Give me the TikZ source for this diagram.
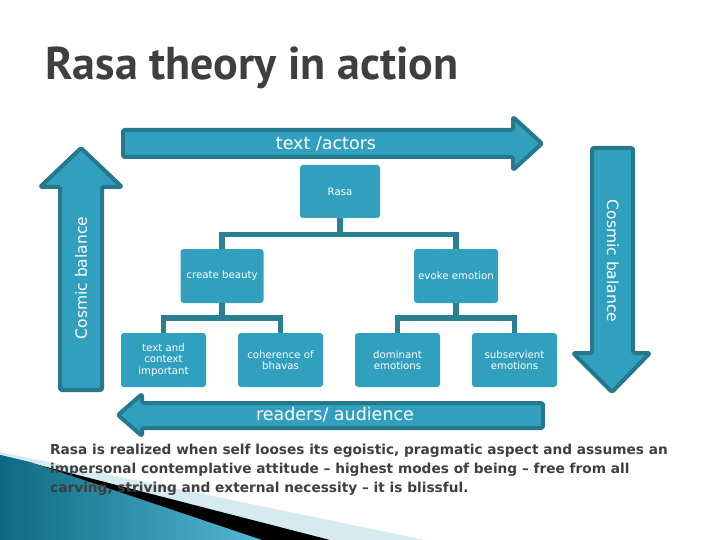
\documentclass[tikz,border=0pt]{standalone}
\usepackage{fontspec}
\newfontfamily\boxfont{DejaVu Sans}
\newfontfamily\ptfont{PT Sans}
\definecolor{tealfill}{HTML}{31A0BE}
\definecolor{tealdark}{HTML}{26798C}
\definecolor{tealconn}{HTML}{2A7F93}
\definecolor{titlegray}{HTML}{3F3F3F}
\definecolor{lightwedge}{HTML}{D6EAF0}
\definecolor{wedgedark}{HTML}{0E6A82}
\definecolor{wedgelight}{HTML}{55B7D3}
\begin{document}
\begin{tikzpicture}[x=1pt,y=-1pt,
  bigarrow/.style={draw=tealdark, fill=tealfill, line width=4pt, line join=round, rounded corners=1.5pt},
  arrowtext/.style={text=white, font=\boxfont\fontsize{17.5}{20}\selectfont, inner sep=0pt},
  sidetext/.style={text=white, font=\boxfont\fontsize{15.5}{18}\selectfont, inner sep=0pt},
  treebox/.style={fill=tealfill, rounded corners=3pt, text=white, align=center,
     font=\boxfont\fontsize{10.2}{11.5}\selectfont, inner sep=0pt,
     minimum width=85pt, minimum height=54pt},
  conn/.style={draw=tealconn, line width=5.5pt}
]
\useasboundingbox (0,0) rectangle (720,540);
% bottom-left decoration
\fill[lightwedge] (0,452) -- (425,540) -- (0,540) -- cycle;
\fill[black] (0,455) -- (330,540) -- (0,540) -- cycle;
\shade[left color=wedgedark, right color=wedgelight] (0,455) -- (30,462) -- (262,540) -- (0,540) -- cycle;
% title
\node[anchor=base west, inner sep=0pt, text=titlegray,
  font=\ptfont\bfseries\fontsize{46}{50}\selectfont] (title) at (45,80) {Rasa theory in action};
% top arrow
\draw[bigarrow] (123,130) -- (513,130) -- (513,117) -- (542,143.5) -- (513,170) -- (513,157) -- (123,157) -- cycle;
\node[arrowtext] (ta) at (326,143.5) {text /actors};
% right down arrow
\draw[bigarrow] (592,148) -- (633,148) -- (633,353) -- (650,353) -- (612,392) -- (573,353) -- (592,353) -- cycle;
\node[sidetext, rotate=-90] (cbr) at (613,261) {Cosmic balance};
% left up arrow
\draw[bigarrow] (60,390) -- (60,187) -- (40,187) -- (81,148) -- (122,187) -- (102,187) -- (102,390) -- cycle;
\node[sidetext, rotate=90] (cbl) at (81,278) {Cosmic balance};
% bottom arrow
\draw[bigarrow] (543,403) -- (142,403) -- (142,394) -- (118,415) -- (142,436) -- (142,428) -- (543,428) -- cycle;
\node[arrowtext] (ra) at (335,415) {readers/ audience};
% tree
\node[treebox, minimum width=80pt, minimum height=53pt] (rasa) at (340,191.5) {Rasa};
\node[treebox, minimum width=83pt] (cb) at (222,276) {create beauty};
\node[treebox, minimum width=84pt] (ee) at (456,276) {evoke emotion};
\node[treebox] (t1) at (163.5,360) {text and\\context\\important};
\node[treebox] (t2) at (280.5,360) {coherence of\\bhavas};
\node[treebox] (t3) at (397.5,360) {dominant\\emotions};
\node[treebox] (t4) at (514.5,360) {subservient\\emotions};
\draw[conn] (rasa.south) -- ++(0,16.5) -| (cb.north);
\draw[conn] (rasa.south) -- ++(0,16.5) -| (ee.north);
\draw[conn] (cb.south) -- ++(0,15) -| (t1.north);
\draw[conn] (cb.south) -- ++(0,15) -| (t2.north);
\draw[conn] (ee.south) -- ++(0,15) -| (t3.north);
\draw[conn] (ee.south) -- ++(0,15) -| (t4.north);
% paragraph
\node[anchor=north west, inner sep=0pt, align=left, text=titlegray,
  font=\boxfont\bfseries\fontsize{13.7}{19}\selectfont] (para) at (50,444)
  {Rasa is realized when self looses its egoistic, pragmatic aspect and assumes an\\
   impersonal contemplative attitude – highest modes of being – free from all\\
   carving, striving and external necessity – it is blissful.};
\end{tikzpicture}
\end{document}
